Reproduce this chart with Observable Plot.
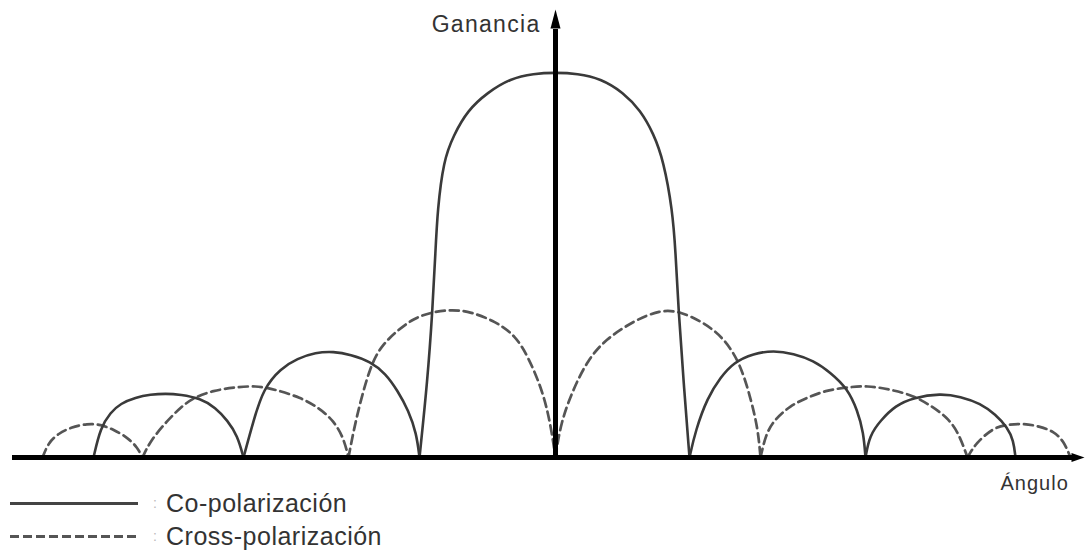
<!DOCTYPE html>
<html>
<head>
<meta charset="utf-8">
<script src="https://cdn.jsdelivr.net/npm/d3@7"></script>
<script src="https://cdn.jsdelivr.net/npm/@observablehq/plot@0.6"></script>
<style>
html,body{margin:0;padding:0;background:#fff;overflow:hidden;width:1086px;height:552px;font-family:"Liberation Sans",Arial,sans-serif;}
#chart{position:absolute;left:0;top:0;}
.leg{position:absolute;left:0;width:700px;height:30px;line-height:30px;}
.sw{position:absolute;left:10px;width:128px;height:3px;top:13.5px;}
.sw.solid{background:#444;}
.sw.dash{background:repeating-linear-gradient(to right,#555 0 9px,transparent 9px 13px);}
.colon{position:absolute;left:153px;top:0;font-size:14px;color:#bbb;}
.lab{position:absolute;left:166px;top:0;font-size:25px;color:#333;white-space:nowrap;letter-spacing:0.5px;}
</style>
</head>
<body>
<div id="chart"></div>
<div class="leg" style="top:488px"><div class="sw solid"></div><span class="colon">:</span><span class="lab" id="l1"></span></div>
<div class="leg" style="top:521px"><div class="sw dash"></div><span class="colon">:</span><span class="lab" id="l2"></span></div>
<script>
// ---- data (angle in arbitrary degrees, gain in arbitrary linear units) ----
const seriesNames = ["Co-polarización", "Cross-polarización"];
const axisLabels = {y: "Ganancia", x: "Ángulo"};

// Co-polarization lobes
const coL2 = [[-92.4,0],[-91,7.5],[-89,11.25],[-87,13.5],[-84,15],[-81,15.75],[-78,16],[-75,15.75],[-71,14.75],[-68,12.5],[-65.6,9.25],[-63.6,5.5],[-62.4,0]];
const coL1 = [[-62.4,0],[-60.4,9.25],[-58.4,17.25],[-55,22.25],[-51.6,24.75],[-48,26.25],[-44.4,26.5],[-41,25.75],[-37,24],[-34,21],[-31.6,16.75],[-29.4,11.75],[-27.8,6],[-27.2,0]];
const coMain = [[-27.2,0],[-25.6,19.25],[-24.6,36.75],[-24,51.75],[-23.6,61.75],[-22.4,74.25],[-20.4,80.5],[-17.6,86.75],[-13.6,91.25],[-9,94.75],[-4.4,96],[0,96.25],[4.4,96],[9,94.75],[13.6,91.25],[17,86.75],[19.6,81],[21.6,74.25],[23.4,61.75],[24,51.75],[24.6,36.75],[25.6,19.25],[26.8,0]];
const coR1 = [[26.8,0],[28,6.75],[30.4,15],[33,20],[35.6,23.75],[39.6,26],[43.6,26.75],[47.6,26],[51.6,24.25],[55,21.25],[58.4,17.25],[60.4,11.75],[61.6,6.25],[62,0]];
const coR2 = [[62,0],[62.8,5.5],[65,9.25],[68,13],[71.6,15],[77,16],[81,15.25],[85,13.5],[88,10.75],[90.4,7.5],[91.6,4.25],[92,0]];

// Cross-polarization lobes
const xpL3 = [[-102.6,0],[-101.4,3.75],[-99.4,6],[-97,7.5],[-93.6,8.5],[-91,8.25],[-88.4,7],[-85.6,5],[-83.6,2.5],[-82.6,0]];
const xpL2 = [[-82.6,0],[-81,4.25],[-77.6,9.25],[-75,12.5],[-72.4,15],[-68.4,16.75],[-64.4,17.5],[-60,18],[-56,17],[-51,15],[-47.4,12.5],[-44.4,9.25],[-42.4,5],[-41.4,0]];
const xpL1 = [[-41.4,0],[-40,9.25],[-37,23.5],[-34.4,28.5],[-31.6,31.75],[-28.4,34.75],[-25,36.25],[-21,37],[-17,36.5],[-12,34],[-8,30.5],[-5.4,25],[-2.6,16.75],[-1,8.5],[0,0]];
const xpR1 = [[0,0],[1,8.5],[3.5,17],[6.5,24.5],[10,29.5],[15.4,34],[21,37],[25,36.5],[29.6,33.75],[33.6,30],[37,23.5],[39.2,14],[40.5,7],[41,0]];
const xpR2 = [[41,0],[42,5.5],[43.6,9.25],[47,13],[50.4,15],[54,16.75],[58,17.5],[62.4,18],[67,17],[71.6,15.5],[75,13],[78.4,10],[80.6,6.25],[82.4,0]];
const xpR3 = [[82.4,0],[84,3.5],[87.6,7.5],[90.6,8.25],[93.6,8.5],[97,7.75],[99.6,6.5],[101.6,4.25],[103,0]];

// axis extents (data units)
const xDomain = [-108.6, 105.8];
const yDomain = [0, 112];
const xAxisEnd = 103.6;
const yAxisEnd = 107;

// ---- build ----
const toRows = (series, lobes) => lobes.flatMap((pts, i) => pts.map(([x, y]) => ({series, lobe: series + i, x, y})));
const co = toRows("co", [coL2, coL1, coMain, coR1, coR2]);
const xp = toRows("xp", [xpL3, xpL2, xpL1, xpR1, xpR2, xpR3]);

const headUp = (w, h) => ({draw(ctx) { ctx.moveTo(0, 0); ctx.lineTo(w, h); ctx.lineTo(-w, h); ctx.closePath(); }});
const headRight = (w, h) => ({draw(ctx) { ctx.moveTo(0, 0); ctx.lineTo(-h, w); ctx.lineTo(-h, -w); ctx.closePath(); }});

const W = 1086, H = 497;
const chart = Plot.plot({
  width: W, height: H,
  marginLeft: 12, marginRight: 2, marginTop: 9, marginBottom: H - 457,
  x: {domain: xDomain, axis: null},
  y: {domain: yDomain, axis: null},
  style: {fontFamily: '"Liberation Sans", Arial, sans-serif', background: "#fff"},
  marks: [
    Plot.line(xp, {x: "x", y: "y", z: "lobe", curve: "basis", stroke: "#555", strokeWidth: 2.7, strokeDasharray: "9,5"}),
    Plot.line(co, {x: "x", y: "y", z: "lobe", curve: "basis", stroke: "#3a3a3a", strokeWidth: 2.6}),
    Plot.ruleY([0], {x1: xDomain[0], x2: xAxisEnd, stroke: "#000", strokeWidth: 5}),
    Plot.ruleX([0], {y1: 0, y2: yAxisEnd, stroke: "#000", strokeWidth: 5}),
    Plot.dot([{x: 0, y: yDomain[1]}], {x: "x", y: "y", symbol: headUp(5, 19), fill: "#000", stroke: "none"}),
    Plot.dot([{x: xDomain[1], y: 0}], {x: "x", y: "y", symbol: headRight(4.5, 13), fill: "#000", stroke: "none"}),
    Plot.text([axisLabels.y], {x: 0, y: 108.2, dx: -15, text: d => d, textAnchor: "end", fontSize: 23, fill: "#333"}),
    Plot.text([axisLabels.x], {x: 89, y: -6.5, text: d => d, textAnchor: "start", fontSize: 20, fill: "#333"})
  ]
});
chart.querySelectorAll("text").forEach(t => {
  if (t.textContent === axisLabels.y) t.setAttribute("letter-spacing", "1.3");
  if (t.textContent === axisLabels.x) t.setAttribute("letter-spacing", "1");
});
document.getElementById("chart").appendChild(chart);
document.getElementById("l1").textContent = seriesNames[0];
document.getElementById("l2").textContent = seriesNames[1];
</script>
</body>
</html>
